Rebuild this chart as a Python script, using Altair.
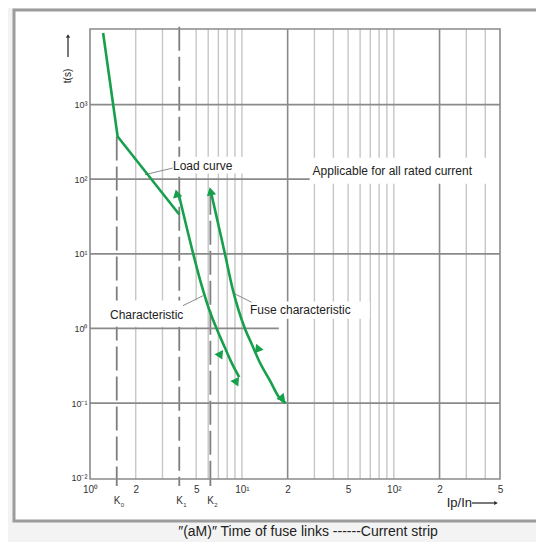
import altair as alt
import pandas as pd

FONT = "Liberation Sans"
GREEN = "#17a04b"

# ---- axes ----
x_ticks = [1, 2, 5, 10, 20, 50, 100, 200, 500]
y_ticks = [0.01, 0.1, 1, 10, 100, 1000]
x_minor = [2, 3, 5, 6, 7, 8, 9, 10, 30, 40, 50, 60, 70, 80, 90, 100, 300, 400]
x_major = [20, 200]
h_t = [0.1, 1, 10, 100, 1000]
h_end = [500, 17.5, 500, 28, 500]

# ---- K lines ----
k_names = ["K", "K", "K"]
k_sub = ["0", "1", "2"]
k_x = [1.5, 3.87, 6.2]
k_top = [373, 11000, 70]

# ---- curves ----
load_x = [1.22, 1.52, 3.87]
load_t = [9100, 373, 33.6]
char_x = [3.87, 4.78, 5.32, 6.24, 6.81, 7.71, 8.63, 9.60]
char_t = [58.5, 10, 4.38, 1.56, 1.0, 0.558, 0.335, 0.222]
fuse_x = [6.32, 7.73, 8.69, 10.46, 11.6, 13.1, 15.3, 17.8, 19.5]
fuse_t = [61.5, 10, 3.39, 1.0, 0.62, 0.352, 0.2, 0.115, 0.1]

# arrow heads
arr_x = [3.74, 6.25, 7.17, 9.13, 12.8, 18.3]
arr_t = [62, 66, 0.446, 0.195, 0.531, 0.117]
arr_ang = [346, 348, 155, 155, 338, 140]

# ---- annotations ----
lab_text = ["Load curve", "Applicable for all rated current", "Characteristic", "Fuse characteristic"]
lab_x = [3.52, 29.2, 1.354, 11.3]
lab_t = [149, 130, 1.53, 1.77]
box_x0 = [3.36, 28, 1.255, 10.8]
box_x1 = [10.46, 476, 5.13, 69.5]
box_t0 = [119, 86.7, 1.05, 1.35]
box_t1 = [200, 194, 2.36, 2.29]
lead_x0 = [2.30, 4.09, 9.0]
lead_t0 = [115, 2.02, 2.9]
lead_x1 = [3.50, 5.56, 11.6]
lead_t1 = [141, 2.75, 2.24]

xscale = alt.Scale(type="log", domain=[1, 500], nice=False)
yscale = alt.Scale(type="log", domain=[0.0096, 10300], nice=False)
xaxis = alt.Axis(values=x_ticks, title=None, grid=False, ticks=False, domain=False, zindex=2,
                 labelFont=FONT, labelFontSize=10, labelColor="#333", labelPadding=5,
                 labelFlush=False, labelOverlap=False,
                 labelExpr="datum.value == 1 ? '10⁰' : datum.value == 10 ? '10¹' : datum.value == 100 ? '10²' : (indexof([2,20,200], datum.value) >= 0 ? '2' : '5')")
yaxis = alt.Axis(values=y_ticks, title=None, grid=False, ticks=False, domain=False, zindex=2,
                 labelFont=FONT, labelFontSize=9, labelColor="#333", labelPadding=3,
                 labelFlush=False, labelOverlap=False,
                 labelExpr="datum.value < 0.05 ? '10⁻²' : datum.value < 0.5 ? '10⁻¹' : datum.value < 5 ? '10⁰' : datum.value < 50 ? '10¹' : datum.value < 500 ? '10²' : '10³'")


def X(f):
    return alt.X(f, type="quantitative", scale=xscale, axis=xaxis)


def Y(f):
    return alt.Y(f, type="quantitative", scale=yscale, axis=yaxis)


one = pd.DataFrame({"a": [0]})

frame = alt.Chart(one).mark_rect(fill="white", stroke="#9c9c9c", strokeWidth=3).encode(
    x=alt.value(-76), x2=alt.value(480), y=alt.value(-19), y2=alt.value(492))

minor = alt.Chart(pd.DataFrame({"x": x_minor})).mark_rule(color="#c6c6c6", strokeWidth=1.4).encode(x=X("x"))
major = alt.Chart(pd.DataFrame({"x": x_major})).mark_rule(color="#8a8a8a", strokeWidth=1.6).encode(x=X("x"))

kdf = pd.DataFrame({"k": k_x, "top": k_top, "bot": [0.0096] * 3, "name": k_names, "sub": k_sub})
klines = alt.Chart(kdf).mark_rule(color="#7e7e7e", strokeWidth=1.8, strokeDash=[24, 6]).encode(
    x=X("k"), y=Y("top"), y2="bot")
kticks = alt.Chart(kdf).mark_rule(color="#7e7e7e", strokeWidth=1.8).encode(
    x=X("k"), y=alt.value(450), y2=alt.value(457))
klab = alt.Chart(kdf).mark_text(font=FONT, fontSize=10, color="#333", align="left", dx=-3, baseline="middle").encode(
    x=X("k"), y=alt.value(472), text="name")
ksub = alt.Chart(kdf).mark_text(font=FONT, fontSize=6, color="#333", align="left", dx=4, baseline="middle").encode(
    x=X("k"), y=alt.value(476), text="sub")

hdf = pd.DataFrame({"t": h_t, "x0": [1] * len(h_t), "x1": h_end})
hlines = alt.Chart(hdf).mark_rule(color="#8a8a8a", strokeWidth=1.8).encode(y=Y("t"), x=X("x0"), x2="x1")

border = alt.Chart(one).mark_rect(fill=None, stroke="#8a8a8a", strokeWidth=1.6).encode(
    x=alt.value(0), x2=alt.value(410), y=alt.value(0), y2=alt.value(450))

adf = pd.DataFrame({"label": lab_text, "x": lab_x, "t": lab_t,
                    "bx0": box_x0, "bx1": box_x1, "bt0": box_t0, "bt1": box_t1})
boxes = alt.Chart(adf).mark_rect(fill="white").encode(x=X("bx0"), x2="bx1", y=Y("bt0"), y2="bt1")
texts = alt.Chart(adf).mark_text(font=FONT, fontSize=12, color="#222", align="left", baseline="middle").encode(
    x=X("x"), y=Y("t"), text="label")

ldf = pd.DataFrame({"x0": lead_x0, "t0": lead_t0, "x1": lead_x1, "t1": lead_t1})
leaders = alt.Chart(ldf).mark_rule(color="#8a8a8a", strokeWidth=1).encode(
    x=X("x0"), x2="x1", y=Y("t0"), y2="t1")

load_df = pd.DataFrame({"i": range(len(load_x)), "x": load_x, "t": load_t})
load_line = alt.Chart(load_df).mark_line(color=GREEN, strokeWidth=2.6).encode(
    x=X("x"), y=Y("t"), order="i")

rows = []
for name, xs, ts in [("char", char_x, char_t), ("fuse", fuse_x, fuse_t)]:
    for i, (a, b) in enumerate(zip(xs, ts)):
        rows.append({"curve": name, "i": i, "x": a, "t": b})
cdf = pd.DataFrame(rows)
curves = alt.Chart(cdf).mark_line(color=GREEN, strokeWidth=2.6, interpolate="monotone").encode(
    x=X("x"), y=Y("t"), detail="curve", order="i")

ardf = pd.DataFrame({"x": arr_x, "t": arr_t, "ang": arr_ang})
arrows = alt.Chart(ardf).mark_point(shape="triangle", filled=True, color=GREEN, opacity=1, size=90).encode(
    x=X("x"), y=Y("t"), angle=alt.Angle("ang:Q", scale=None))

# axis titles and caption
ytitle = alt.Chart(one).mark_text(text="t(s)", font=FONT, fontSize=10, color="#222", angle=270,
                                  align="center", baseline="middle").encode(x=alt.value(-22), y=alt.value(47))
yarrow = alt.Chart(one).mark_rule(color="#222", strokeWidth=1.2).encode(
    x=alt.value(-22), y=alt.value(9), y2=alt.value(28))
yhead = alt.Chart(one).mark_point(shape="triangle-up", filled=True, color="#222", opacity=1, size=18).encode(
    x=alt.value(-22), y=alt.value(7))
xtitle = alt.Chart(one).mark_text(text="Ip/In", font=FONT, fontSize=13, color="#222", align="right",
                                  baseline="middle").encode(x=alt.value(382), y=alt.value(474))
xarrow = alt.Chart(one).mark_rule(color="#222", strokeWidth=1.2).encode(
    x=alt.value(382), x2=alt.value(404), y=alt.value(474))
xhead = alt.Chart(one).mark_point(shape="triangle-right", filled=True, color="#222", opacity=1, size=18).encode(
    x=alt.value(406), y=alt.value(474))
caption = alt.Chart(one).mark_text(text="″(aM)″  Time of fuse links ------Current strip", font=FONT,
                                   fontSize=14, color="#222", align="center", baseline="middle").encode(
    x=alt.value(218), y=alt.value(503))

chart = alt.layer(
    frame, minor, major, klines, kticks, hlines, border, boxes, leaders, texts, load_line, curves, arrows,
    klab, ksub, ytitle, yarrow, yhead, xtitle, xarrow, xhead, caption
).properties(
    width=410, height=450, background="#f3f3f3",
    padding={"left": 82, "top": 21, "right": 36, "bottom": 63},
    autosize=alt.AutoSizeParams(type="none"),
).configure_view(stroke=None)

chart.save("out.html", embed_options={"renderer": "svg", "actions": False})
